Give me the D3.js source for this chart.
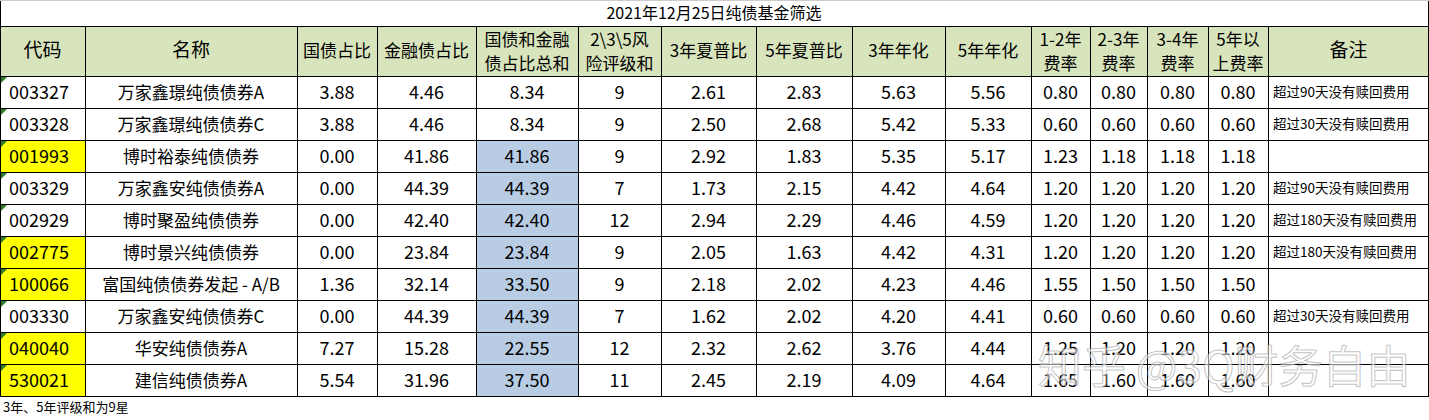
<!DOCTYPE html><html><head><meta charset="utf-8">
<script src="https://cdn.jsdelivr.net/npm/d3@7"></script>
<style>body{margin:0;background:#fff}svg{font-family:"Noto Sans CJK SC",sans-serif}</style></head><body>
<svg id="c" width="1429" height="420"></svg>
<script>
const title="2021年12月25日纯债基金筛选";
const headers=[["代码"],["名称"],["国债占比"],["金融债占比"],["国债和金融","债占比总和"],["2\\3\\5风","险评级和"],["3年夏普比"],["5年夏普比"],["3年年化"],["5年年化"],["1-2年","费率"],["2-3年","费率"],["3-4年","费率"],["5年以","上费率"],["备注"]];
const codes=["003327","003328","001993","003329","002929","002775","100066","003330","040040","530021"];
const names=["万家鑫璟纯债债券A","万家鑫璟纯债债券C","博时裕泰纯债债券","万家鑫安纯债债券A","博时聚盈纯债债券","博时景兴纯债债券","富国纯债债券发起 - A/B","万家鑫安纯债债券C","华安纯债债券A","建信纯债债券A"];
const govShare=["3.88","3.88","0.00","0.00","0.00","0.00","1.36","0.00","7.27","5.54"];
const finShare=["4.46","4.46","41.86","44.39","42.40","23.84","32.14","44.39","15.28","31.96"];
const sumShare=["8.34","8.34","41.86","44.39","42.40","23.84","33.50","44.39","22.55","37.50"];
const rating=["9","9","9","7","12","9","9","7","12","11"];
const sharpe3=["2.61","2.50","2.92","1.73","2.94","2.05","2.18","1.62","2.32","2.45"];
const sharpe5=["2.83","2.68","1.83","2.15","2.29","1.63","2.02","2.02","2.62","2.19"];
const ann3=["5.63","5.42","5.35","4.42","4.46","4.42","4.23","4.20","3.76","4.09"];
const ann5=["5.56","5.33","5.17","4.64","4.59","4.31","4.46","4.41","4.44","4.64"];
const fee12=["0.80","0.60","1.23","1.20","1.20","1.20","1.55","0.60","1.25","1.65"];
const fee23=["0.80","0.60","1.18","1.20","1.20","1.20","1.50","0.60","1.20","1.60"];
const fee34=["0.80","0.60","1.18","1.20","1.20","1.20","1.50","0.60","1.20","1.60"];
const fee5=["0.80","0.60","1.18","1.20","1.20","1.20","1.50","0.60","1.20","1.60"];
const notes=["超过90天没有赎回费用","超过30天没有赎回费用","","超过90天没有赎回费用","超过180天没有赎回费用","超过180天没有赎回费用","","超过30天没有赎回费用","",""];
const yellowCodes=["001993","002775","100066","040040","530021"];
const footnote="3年、5年评级和为9星";
const colEdges=[0,85,297,377,476,578,661,756,852,945,1031,1090,1147,1208,1268,1429];
const cols=[codes,names,govShare,finShare,sumShare,rating,sharpe3,sharpe5,ann3,ann5,fee12,fee23,fee34,fee5,notes];
const svg=d3.select("#c");
const x=i=>colEdges[i];
const y=d3.scaleLinear().domain([0,10]).range([76,396]);
svg.append("text").attr("x",714).attr("y",19).attr("text-anchor","middle").attr("font-size",16).text(title);
svg.append("rect").attr("x",0).attr("y",26).attr("width",1429).attr("height",50).attr("fill","#d8e4bc");
headers.forEach((h,i)=>{const cx=(x(i)+x(i+1))/2;
 h.forEach((t,j)=>svg.append("text").attr("x",cx).attr("y",h.length==1?57:46+j*24).attr("text-anchor","middle").attr("font-size",h.length==1&&(i<2||i==14)?19:17).text(t));});
for(let r=0;r<10;r++){
 cols.forEach((col,c)=>{
  let fill=null;
  if(c==0&&yellowCodes.includes(codes[r]))fill="#ffff00";
  if(c==4&&r>=2)fill="#b8cce4";
  if(fill)svg.append("rect").attr("x",x(c)).attr("y",y(r)).attr("width",x(c+1)-x(c)).attr("height",y(r+1)-y(r)).attr("fill",fill);
  const v=col[r];if(!v)return;
  const t=svg.append("text").attr("y",y(r)+23).attr("font-size",c==14?13.5:c==1?17:18);
  if(c==0)t.attr("x",x(c)+9).text(v);
  else if(c==14)t.attr("x",x(c)+5).attr("y",y(r)+21).text(v);
  else t.attr("x",(x(c)+x(c+1))/2).attr("text-anchor","middle").text(v);
 });
 svg.append("path").attr("d",`M${x(0)+1},${y(r)+1}l6,0l-6,6z`).attr("fill","#2a7a2a");
}
const g=svg.append("g").attr("stroke","#000").attr("stroke-width",1).attr("shape-rendering","crispEdges");
[26,76,...d3.range(1,11).map(y)].forEach(v=>g.append("line").attr("x1",0).attr("x2",1429).attr("y1",v+0.5).attr("y2",v+0.5));
colEdges.forEach(v=>g.append("line").attr("x1",Math.min(v,1428)+0.5).attr("x2",Math.min(v,1428)+0.5).attr("y1",26).attr("y2",396));
g.append("line").attr("x1",0.5).attr("x2",0.5).attr("y1",0).attr("y2",26);
g.append("line").attr("x1",1428.5).attr("x2",1428.5).attr("y1",0).attr("y2",26);
g.append("line").attr("x1",0).attr("x2",1429).attr("y1",0.5).attr("y2",0.5).attr("stroke","#ccc");
svg.append("text").attr("x",3).attr("y",412).attr("font-size",13).text(footnote);
svg.append("text").attr("x",1038).attr("y",383).attr("font-size",44).attr("fill","#fff").attr("fill-opacity",0.55).attr("stroke","#999").attr("stroke-opacity",0.6).attr("stroke-width",1).text("知乎 @3Q财务自由");
</script></body></html>
